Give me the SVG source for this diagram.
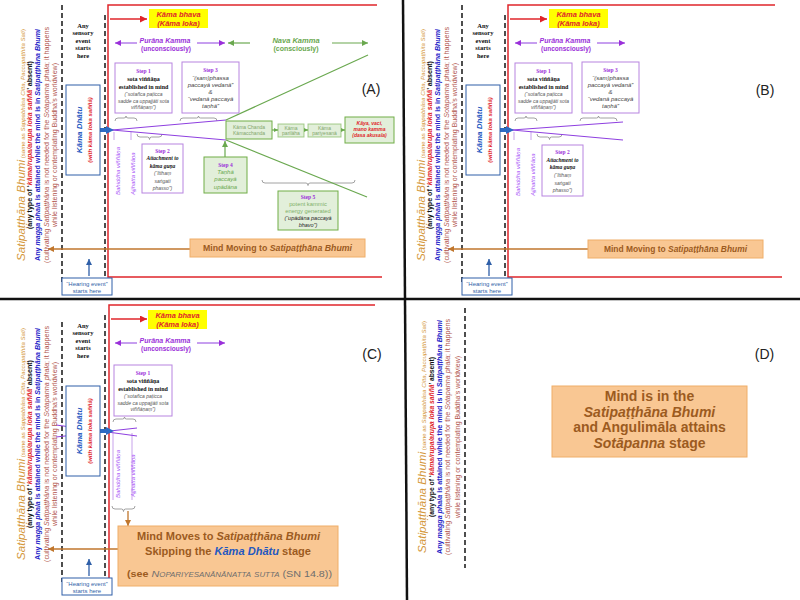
<svg xmlns="http://www.w3.org/2000/svg" width="800" height="600" viewBox="0 0 800 600">
<defs>
<style>
text{font-family:"Liberation Sans",Arial,sans-serif}
.sf{font-family:"Liberation Serif","Times New Roman",serif}
.c{text-anchor:middle}
.i{font-style:italic}
.b{font-weight:bold}
.dash{stroke:#222;stroke-width:1.6;stroke-dasharray:5,3;fill:none}
.red{stroke:#e0262b;stroke-width:1.5;fill:none}
.pl{stroke:#8e3fe0;stroke-width:1;fill:none}
.pl2{stroke:#b98ae6;stroke-width:0.8;fill:none}
.gl{stroke:#6aa84f;stroke-width:1.2;fill:none}
.brace{stroke:#8a8a8a;stroke-width:0.8;fill:none}
.pbox{fill:#fff;stroke:#b784e0;stroke-width:1}
.gbox{fill:#e2efda;stroke:#70ad47;stroke-width:1}
.obox{fill:#f9c793;stroke:#efae68;stroke-width:1}
.bbox{fill:#fff;stroke:#2f5fa8;stroke-width:1}
.otxt{fill:#9c5b1f;font-weight:bold;text-anchor:middle}
.stp{font-family:"Liberation Serif","Times New Roman",serif;font-weight:bold;fill:#9b30d9;font-size:5.5px;text-anchor:middle}
.blk{font-family:"Liberation Serif","Times New Roman",serif;font-weight:bold;fill:#111;font-size:6px;text-anchor:middle}
.blk2{font-family:"Liberation Serif","Times New Roman",serif;font-weight:bold;font-style:italic;fill:#111;font-size:5.5px;text-anchor:middle}
.gry{fill:#555;font-style:italic;font-size:5px;text-anchor:middle}
.s3{fill:#444;font-style:italic;font-size:6px;text-anchor:middle}
.pur{fill:#9b30d9;font-weight:bold;text-anchor:middle}
.grn{fill:#6aa84f;font-weight:bold;text-anchor:middle}
.kb{fill:#e0262b;font-weight:bold;font-style:italic;font-size:7.5px;text-anchor:middle}
.kk{fill:#e0262b;font-weight:bold;font-style:italic;font-size:5px;text-anchor:middle}
.vin{fill:#a855f7;font-style:italic;font-size:6px}
.hear{fill:#2f5fa8;font-size:6px;text-anchor:middle}
.lbl{fill:#222;font-size:14px;text-anchor:middle}
.gsm{fill:#7fa66a;font-size:5px;text-anchor:middle}
.or{fill:#d4973a}
.bl{fill:#2424c8;font-weight:bold}
.br{fill:#b0524a}
</style>
<marker id="m-red" viewBox="0 0 10 10" refX="10" refY="5" markerWidth="7" markerHeight="7" markerUnits="userSpaceOnUse" orient="auto"><path d="M0,0 L10,5 L0,10z" fill="#e0262b"/></marker>
<marker id="m-pur" viewBox="0 0 10 10" refX="10" refY="5" markerWidth="7" markerHeight="6" markerUnits="userSpaceOnUse" orient="auto"><path d="M0,0 L10,5 L0,10z" fill="#9b30d9"/></marker>
<marker id="m-grn" viewBox="0 0 10 10" refX="10" refY="5" markerWidth="7" markerHeight="6" markerUnits="userSpaceOnUse" orient="auto"><path d="M0,0 L10,5 L0,10z" fill="#6aa84f"/></marker>
<marker id="m-grs" viewBox="0 0 10 10" refX="10" refY="5" markerWidth="4" markerHeight="4" markerUnits="userSpaceOnUse" orient="auto"><path d="M0,0 L10,5 L0,10z" fill="#6aa84f"/></marker>
<marker id="m-org" viewBox="0 0 10 10" refX="10" refY="5" markerWidth="6" markerHeight="6" markerUnits="userSpaceOnUse" orient="auto"><path d="M0,0 L10,5 L0,10z" fill="#c0762c"/></marker>
<marker id="m-blu" viewBox="0 0 10 10" refX="10" refY="5" markerWidth="6" markerHeight="6" markerUnits="userSpaceOnUse" orient="auto"><path d="M0,0 L10,5 L0,10z" fill="#2f5fa8"/></marker>
</defs>
<rect width="800" height="600" fill="#fff"/>

<g id="dividers">
<line x1="0" y1="299" x2="800" y2="299" stroke="#111" stroke-width="2.5"/>
<line x1="403" y1="0" x2="407" y2="600" stroke="#111" stroke-width="2.5"/>
</g>

<!-- ================= PANEL A ================= -->
<g id="panel-a">
<g id="a-connectors">
<line class="dash" x1="62" y1="5" x2="62" y2="283"/>
<line class="dash" x1="105" y1="15" x2="105" y2="283"/>
<path class="red" d="M377,5 H108 V277 H382"/>
<line class="red" x1="110" y1="19" x2="147" y2="19" marker-end="url(#m-red)"/>
<line class="pl" x1="137" y1="43" x2="115" y2="43" marker-end="url(#m-pur)"/>
<line class="pl" x1="197" y1="43" x2="225" y2="43" marker-end="url(#m-pur)"/>
<line class="gl" x1="250" y1="43" x2="228" y2="43" marker-end="url(#m-grn)"/>
<line class="gl" x1="332" y1="43" x2="368" y2="43" marker-end="url(#m-grn)"/>
<path class="brace" d="M115,121 Q115,118 118,118 H124 Q126,118 126,116 Q126,118 128,118 H134 Q137,118 137,121"/>
<path class="brace" d="M180,121 Q180,118 183,118 H196.5 Q198.5,118 198.5,116 Q198.5,118 200.5,118 H214 Q217,118 217,121"/>
<path class="brace" d="M137,134 Q137,137 140,137 H147.5 Q149.5,137 149.5,139.5 Q149.5,137 151.5,137 H159 Q162,137 162,134"/>
<path class="brace" d="M262,180 Q262,183 265,183 H306 Q308,183 308,185.5 Q308,183 310,183 H352 Q355,183 355,180"/>
<line class="pl2" x1="114" y1="132" x2="114" y2="140"/>
<line class="pl2" x1="131" y1="132" x2="131" y2="140"/>
<line class="pl" x1="112" y1="130" x2="226" y2="120"/>
<line class="pl" x1="112" y1="130" x2="226" y2="140"/>
<line class="gl" x1="226" y1="120" x2="368" y2="55"/>
<line class="gl" x1="226" y1="140" x2="367" y2="197"/>
<line class="gl" x1="225" y1="157" x2="225" y2="141" marker-end="url(#m-grn)"/>
<line class="gl" x1="272" y1="130" x2="278" y2="130" marker-end="url(#m-grs)"/>
<line class="gl" x1="304" y1="130" x2="308" y2="130" marker-end="url(#m-grs)"/>
<line class="gl" x1="341" y1="130" x2="345" y2="130" marker-end="url(#m-grs)"/>
<line x1="89" y1="276" x2="89" y2="259" stroke="#2f5fa8" stroke-width="1.3" marker-end="url(#m-blu)"/>
<line x1="190" y1="249" x2="48" y2="249" stroke="#c0762c" stroke-width="1.5" marker-end="url(#m-org)"/>
<line x1="99" y1="130" x2="107" y2="130" stroke="#2e6cc4" stroke-width="4"/>
<polygon points="106,126 114,130 106,134" fill="#2e6cc4"/>
</g>
<g id="a-bhumi-note">
<text class="c i or" transform="translate(24.7,145) rotate(-90)" font-size="10.5" textLength="232" lengthAdjust="spacingAndGlyphs">Satipaṭṭhāna Bhumi<tspan font-size="5.5" font-style="normal"> (same as <tspan font-style="italic">Sappabhāsa Citta</tspan>, <tspan font-style="italic">Paccupaṭṭhita Sati</tspan>)</tspan></text>
<text class="c b" transform="translate(31.8,145) rotate(-90)" font-size="6.5" fill="#111" textLength="168" lengthAdjust="spacingAndGlyphs">(any type of ‘<tspan fill="#e0262b" font-style="italic">kāma/rupa/arupa loka saññā</tspan>’ absent)</text>
<text class="c bl" transform="translate(40.3,145) rotate(-90)" font-size="6.5" textLength="232" lengthAdjust="spacingAndGlyphs">Any <tspan font-style="italic">magga phala</tspan> is attained while the mind is in <tspan font-style="italic">Satipaṭṭhāna Bhumi</tspan></text>
<text class="c br" transform="translate(48.8,145) rotate(-90)" font-size="6.5" textLength="236" lengthAdjust="spacingAndGlyphs">(cultivating <tspan font-style="italic">Satipaṭṭhāna</tspan> is not needed for the <tspan font-style="italic">Sotapanna phala</tspan>; it happens</text>
<text class="c br" transform="translate(56.8,145) rotate(-90)" font-size="6.5" textLength="164" lengthAdjust="spacingAndGlyphs">while listening or contemplating Buddha’s worldview)</text>
</g>
<g id="a-sensory-event">
<text class="sf b c" font-size="6.5" fill="#111"><tspan x="83" y="27.5">Any</tspan><tspan x="83" y="35">sensory</tspan><tspan x="83" y="42.5">event</tspan><tspan x="83" y="50">starts</tspan><tspan x="83" y="57.5">here</tspan></text>
</g>
<g id="a-kama-bhava">
<rect x="149" y="9" width="59" height="19" fill="#ffff00"/>
<text class="kb" x="178.5" y="17">Kāma bhava</text>
<text class="kb" x="178.5" y="25.5">(Kāma loka)</text>
</g>
<g id="a-purana-kamma">
<text class="pur i" x="165" y="42.5" font-size="7">Purāna Kamma</text>
<text class="pur" x="166" y="50.5" font-size="6.5">(unconsciously)</text>
</g>
<g id="a-nava-kamma">
<text class="grn i" x="296" y="42.5" font-size="7.5">Nava Kamma</text>
<text class="grn" x="296" y="50.5" font-size="7">(consciously)</text>
</g>
<g id="a-step1">
<rect class="pbox" x="115" y="63" width="57" height="50"/>
<text class="stp" x="143.5" y="73">Step 1</text>
<text class="blk" x="143.5" y="81">sota viññāṇa</text>
<text class="blk" x="143.5" y="88.5">established in mind</text>
<text class="gry" x="143.5" y="96">(“sotañca paṭicca</text>
<text class="gry" x="143.5" y="102.5">sadde ca uppajjāti sota</text>
<text class="gry" x="143.5" y="109">viññāṇaṃ”)</text>
</g>
<g id="a-step3">
<rect class="pbox" x="182" y="62" width="57" height="51"/>
<text class="stp" x="210.5" y="72">Step 3</text>
<text class="s3" x="210.5" y="79.5">“(sam)phassa</text>
<text class="s3" x="210.5" y="86.5">paccayā vedanā”</text>
<text class="s3" x="210.5" y="94">&amp;</text>
<text class="s3" x="210.5" y="101">“vedanā paccayā</text>
<text class="s3" x="210.5" y="108">taṇhā”</text>
</g>
<g id="a-step2">
<rect class="pbox" x="142" y="144" width="41" height="49"/>
<text class="stp" x="162.5" y="152.5">Step 2</text>
<text class="blk2" x="162.5" y="160">Attachment to</text>
<text class="blk2" x="162.5" y="167.5">kāma guṇa</text>
<text class="gry" x="162.5" y="175">(“Itthaṃ</text>
<text class="gry" x="162.5" y="182.5">saṅgati</text>
<text class="gry" x="162.5" y="189.5">phasso”)</text>
</g>
<g id="a-vinnana">
<text class="vin" transform="translate(120,195) rotate(-90)">Bahiddha viññāṇa</text>
<text class="vin" transform="translate(134.5,195) rotate(-90)">Ajjhatta viññāṇa</text>
</g>
<g id="a-kama-dhatu">
<rect class="bbox" x="66" y="85" width="34" height="90"/>
<text class="c i b" transform="translate(81.5,130) rotate(-90)" font-size="8" fill="#2458c0">Kāma Dhātu</text>
<text class="c i b" transform="translate(92,130) rotate(-90)" font-size="6" fill="#e0262b">(with kāma loka saññā)</text>
</g>
<g id="a-hearing">
<rect class="bbox" x="62" y="278" width="50" height="17"/>
<text class="hear" x="87" y="286">“Hearing event”</text>
<text class="hear" x="87" y="293">starts here</text>
</g>
<g id="a-mind-moving">
<rect class="obox" x="190" y="239" width="175" height="18"/>
<text class="otxt" x="277.5" y="250.8" font-size="8.5" textLength="149" lengthAdjust="spacingAndGlyphs">Mind Moving to <tspan font-style="italic">Satipaṭṭhāna Bhumi</tspan></text>
</g>
<g id="a-kama-chanda">
<rect class="gbox" x="226" y="121" width="46" height="18"/>
<text class="gsm" x="249" y="128.5">Kāma Chanda</text>
<text class="gsm" x="249" y="135">Kāmacchanda</text>
</g>
<g id="a-parilaha">
<rect class="gbox" x="278" y="124" width="26" height="13" stroke-opacity="0.6"/>
<text class="gsm" x="291" y="129.5">Kāma</text>
<text class="gsm" x="291" y="135">parilāha</text>
</g>
<g id="a-pariyesana">
<rect class="gbox" x="308" y="124" width="33" height="13" stroke-opacity="0.6"/>
<text class="gsm" x="324.5" y="129.5">Kāma</text>
<text class="gsm" x="324.5" y="135">pariyesanā</text>
</g>
<g id="a-kamma">
<rect class="gbox" x="345" y="117" width="49" height="26" stroke-width="1.6"/>
<text class="kk" x="369.5" y="124.8">Kāya, vaci,</text>
<text class="kk" x="369.5" y="131">mano kamma</text>
<text class="kk" x="369.5" y="137.4">(dasa akusala)</text>
</g>
<g id="a-step4">
<rect class="gbox" x="204" y="157" width="43" height="36"/>
<text class="stp" x="225.5" y="166.5">Step 4</text>
<text class="c i" x="225.5" y="174" font-size="6" fill="#6aa84f">Taṇhā</text>
<text class="c i" x="225.5" y="181.3" font-size="6" fill="#6aa84f">paccayā</text>
<text class="c i" x="225.5" y="188.5" font-size="6" fill="#6aa84f">upādāna</text>
</g>
<g id="a-step5">
<rect class="gbox" x="278" y="191" width="60" height="39"/>
<text class="stp" x="308" y="198.5">Step 5</text>
<text class="c" x="308" y="205.5" font-size="5.8" fill="#7fb069">potent kammic</text>
<text class="c" x="308" y="212.5" font-size="5.8" fill="#7fb069">energy generated</text>
<text class="c i" x="308" y="220" font-size="5.5" fill="#222">(“upādāna paccayā</text>
<text class="c i" x="308" y="227" font-size="5.5" fill="#222">bhavo”)</text>
</g>
<text id="a-label" class="lbl" x="371" y="93.5">(A)</text>
</g>

<!-- ================= PANEL B ================= -->
<g id="panel-b" transform="translate(400,0)">
<g id="b-connectors">
<line class="dash" x1="62" y1="5" x2="62" y2="283"/>
<line class="dash" x1="105" y1="15" x2="105" y2="283"/>
<path class="red" d="M375,5 H108 V277 H382"/>
<line class="red" x1="110" y1="19" x2="147" y2="19" marker-end="url(#m-red)"/>
<line class="pl" x1="137" y1="43" x2="115" y2="43" marker-end="url(#m-pur)"/>
<line class="pl" x1="197" y1="43" x2="225" y2="43" marker-end="url(#m-pur)"/>
<path class="brace" d="M115,121 Q115,118 118,118 H124 Q126,118 126,116 Q126,118 128,118 H134 Q137,118 137,121"/>
<path class="brace" d="M180,121 Q180,118 183,118 H196.5 Q198.5,118 198.5,116 Q198.5,118 200.5,118 H214 Q217,118 217,121"/>
<path class="brace" d="M137,134 Q137,137 140,137 H147.5 Q149.5,137 149.5,139.5 Q149.5,137 151.5,137 H159 Q162,137 162,134"/>
<line class="pl2" x1="114" y1="132" x2="114" y2="140"/>
<line class="pl2" x1="131" y1="132" x2="131" y2="140"/>
<line class="pl" x1="112" y1="130" x2="223" y2="122"/>
<line class="pl" x1="112" y1="130" x2="223" y2="140"/>
<line x1="89" y1="276" x2="89" y2="259" stroke="#2f5fa8" stroke-width="1.3" marker-end="url(#m-blu)"/>
<line x1="188" y1="249" x2="48" y2="249" stroke="#c0762c" stroke-width="1.5" marker-end="url(#m-org)"/>
<line x1="99" y1="130" x2="107" y2="130" stroke="#2e6cc4" stroke-width="4"/>
<polygon points="106,126 114,130 106,134" fill="#2e6cc4"/>
</g>
<g id="b-bhumi-note">
<text class="c i or" transform="translate(24.7,145) rotate(-90)" font-size="10.5" textLength="232" lengthAdjust="spacingAndGlyphs">Satipaṭṭhāna Bhumi<tspan font-size="5.5" font-style="normal"> (same as <tspan font-style="italic">Sappabhāsa Citta</tspan>, <tspan font-style="italic">Paccupaṭṭhita Sati</tspan>)</tspan></text>
<text class="c b" transform="translate(31.8,145) rotate(-90)" font-size="6.5" fill="#111" textLength="168" lengthAdjust="spacingAndGlyphs">(any type of ‘<tspan fill="#e0262b" font-style="italic">kāma/rupa/arupa loka saññā</tspan>’ absent)</text>
<text class="c bl" transform="translate(40.3,145) rotate(-90)" font-size="6.5" textLength="232" lengthAdjust="spacingAndGlyphs">Any <tspan font-style="italic">magga phala</tspan> is attained while the mind is in <tspan font-style="italic">Satipaṭṭhāna Bhumi</tspan></text>
<text class="c br" transform="translate(48.8,145) rotate(-90)" font-size="6.5" textLength="236" lengthAdjust="spacingAndGlyphs">(cultivating <tspan font-style="italic">Satipaṭṭhāna</tspan> is not needed for the <tspan font-style="italic">Sotapanna phala</tspan>; it happens</text>
<text class="c br" transform="translate(56.8,145) rotate(-90)" font-size="6.5" textLength="164" lengthAdjust="spacingAndGlyphs">while listening or contemplating Buddha’s worldview)</text>
</g>
<g id="b-sensory-event">
<text class="sf b c" font-size="6.5" fill="#111"><tspan x="83" y="27.5">Any</tspan><tspan x="83" y="35">sensory</tspan><tspan x="83" y="42.5">event</tspan><tspan x="83" y="50">starts</tspan><tspan x="83" y="57.5">here</tspan></text>
</g>
<g id="b-kama-bhava">
<rect x="149" y="9" width="59" height="19" fill="#ffff00"/>
<text class="kb" x="178.5" y="17">Kāma bhava</text>
<text class="kb" x="178.5" y="25.5">(Kāma loka)</text>
</g>
<g id="b-purana-kamma">
<text class="pur i" x="165" y="42.5" font-size="7">Purāna Kamma</text>
<text class="pur" x="166" y="50.5" font-size="6.5">(unconsciously)</text>
</g>
<g id="b-step1">
<rect class="pbox" x="115" y="63" width="57" height="50"/>
<text class="stp" x="143.5" y="73">Step 1</text>
<text class="blk" x="143.5" y="81">sota viññāṇa</text>
<text class="blk" x="143.5" y="88.5">established in mind</text>
<text class="gry" x="143.5" y="96">(“sotañca paṭicca</text>
<text class="gry" x="143.5" y="102.5">sadde ca uppajjāti sota</text>
<text class="gry" x="143.5" y="109">viññāṇaṃ”)</text>
</g>
<g id="b-step3">
<rect class="pbox" x="182" y="62" width="57" height="51"/>
<text class="stp" x="210.5" y="72">Step 3</text>
<text class="s3" x="210.5" y="79.5">“(sam)phassa</text>
<text class="s3" x="210.5" y="86.5">paccayā vedanā”</text>
<text class="s3" x="210.5" y="94">&amp;</text>
<text class="s3" x="210.5" y="101">“vedanā paccayā</text>
<text class="s3" x="210.5" y="108">taṇhā”</text>
</g>
<g id="b-step2">
<rect class="pbox" x="142" y="145" width="41" height="51"/>
<text class="stp" x="162.5" y="154">Step 2</text>
<text class="blk2" x="162.5" y="161.5">Attachment to</text>
<text class="blk2" x="162.5" y="169">kāma guṇa</text>
<text class="gry" x="162.5" y="177">(“Itthaṃ</text>
<text class="gry" x="162.5" y="184.5">saṅgati</text>
<text class="gry" x="162.5" y="192">phasso”)</text>
</g>
<g id="b-vinnana">
<text class="vin" transform="translate(120,196) rotate(-90)">Bahiddha viññāṇa</text>
<text class="vin" transform="translate(134.5,196) rotate(-90)">Ajjhatta viññāṇa</text>
</g>
<g id="b-kama-dhatu">
<rect class="bbox" x="66" y="85" width="34" height="90"/>
<text class="c i b" transform="translate(81.5,130) rotate(-90)" font-size="8" fill="#2458c0">Kāma Dhātu</text>
<text class="c i b" transform="translate(92,130) rotate(-90)" font-size="6" fill="#e0262b">(with kāma loka saññā)</text>
</g>
<g id="b-hearing">
<rect class="bbox" x="62" y="278" width="50" height="17"/>
<text class="hear" x="87" y="286">“Hearing event”</text>
<text class="hear" x="87" y="293">starts here</text>
</g>
<g id="b-mind-moving">
<rect class="obox" x="188" y="240" width="175" height="18"/>
<text class="otxt" x="275.5" y="251.8" font-size="8.5" textLength="143" lengthAdjust="spacingAndGlyphs">Mind Moving to <tspan font-style="italic">Satipaṭṭhāna Bhumi</tspan></text>
</g>
<text id="b-label" class="lbl" x="365" y="95">(B)</text>
</g>

<!-- ================= PANEL C ================= -->
<g id="panel-c" transform="translate(0,300)">
<g id="c-connectors">
<line class="dash" x1="62" y1="22" x2="62" y2="282"/>
<line class="dash" x1="105" y1="15" x2="105" y2="282"/>
<path class="red" d="M375,5 H109 V278"/>
<line class="red" x1="111" y1="19" x2="147" y2="19" marker-end="url(#m-red)"/>
<line class="pl" x1="137" y1="43" x2="115" y2="43" marker-end="url(#m-pur)"/>
<line class="pl" x1="197" y1="43" x2="225" y2="43" marker-end="url(#m-pur)"/>
<path class="brace" d="M113,122 Q113,119 116,119 H122.5 Q124.5,119 124.5,117 Q124.5,119 126.5,119 H133 Q136,119 136,122"/>
<line class="pl2" x1="113" y1="133" x2="113" y2="200"/>
<line class="pl2" x1="132" y1="133" x2="132" y2="200"/>
<line class="pl" x1="56" y1="125" x2="137" y2="136"/>
<line class="pl" x1="56" y1="137" x2="137" y2="128"/>
<path class="brace" d="M112,206 Q112,209 115,209 H121.5 Q123.5,209 123.5,211.5 Q123.5,209 125.5,209 H132 Q135,209 135,206"/>
<line x1="128" y1="211" x2="128" y2="226" stroke="#c0762c" stroke-width="1.3" marker-end="url(#m-org)"/>
<line x1="89" y1="276" x2="89" y2="259" stroke="#2f5fa8" stroke-width="1.3" marker-end="url(#m-blu)"/>
<line x1="118" y1="249" x2="48" y2="249" stroke="#c0762c" stroke-width="1.5" marker-end="url(#m-org)"/>
<line x1="99" y1="131" x2="107" y2="131" stroke="#2e6cc4" stroke-width="4"/>
<polygon points="106,127 114,131 106,135" fill="#2e6cc4"/>
</g>
<g id="c-bhumi-note">
<text class="c i or" transform="translate(24.7,144) rotate(-90)" font-size="10.5" textLength="232" lengthAdjust="spacingAndGlyphs">Satipaṭṭhāna Bhumi<tspan font-size="5.5" font-style="normal"> (same as <tspan font-style="italic">Sappabhāsa Citta</tspan>, <tspan font-style="italic">Paccupaṭṭhita Sati</tspan>)</tspan></text>
<text class="c b" transform="translate(31.8,144) rotate(-90)" font-size="6.5" fill="#111" textLength="168" lengthAdjust="spacingAndGlyphs">(any type of ‘<tspan fill="#e0262b" font-style="italic">kāma/rupa/arupa loka saññā</tspan>’ absent)</text>
<text class="c bl" transform="translate(40.3,144) rotate(-90)" font-size="6.5" textLength="232" lengthAdjust="spacingAndGlyphs">Any <tspan font-style="italic">magga phala</tspan> is attained while the mind is in <tspan font-style="italic">Satipaṭṭhāna Bhumi</tspan></text>
<text class="c br" transform="translate(48.8,144) rotate(-90)" font-size="6.5" textLength="236" lengthAdjust="spacingAndGlyphs">(cultivating <tspan font-style="italic">Satipaṭṭhāna</tspan> is not needed for the <tspan font-style="italic">Sotapanna phala</tspan>; it happens</text>
<text class="c br" transform="translate(56.8,144) rotate(-90)" font-size="6.5" textLength="164" lengthAdjust="spacingAndGlyphs">while listening or contemplating Buddha’s worldview)</text>
</g>
<g id="c-sensory-event">
<text class="sf b c" font-size="6.5" fill="#111"><tspan x="83" y="27.5">Any</tspan><tspan x="83" y="35">sensory</tspan><tspan x="83" y="42.5">event</tspan><tspan x="83" y="50">starts</tspan><tspan x="83" y="57.5">here</tspan></text>
</g>
<g id="c-kama-bhava">
<rect x="148" y="10" width="59" height="19" fill="#ffff00"/>
<text class="kb" x="177.5" y="18">Kāma bhava</text>
<text class="kb" x="177.5" y="26.5">(Kāma loka)</text>
</g>
<g id="c-purana-kamma">
<text class="pur i" x="165" y="42.5" font-size="7">Purāna Kamma</text>
<text class="pur" x="166" y="50.5" font-size="6.5">(unconsciously)</text>
</g>
<g id="c-step1">
<rect class="pbox" x="114" y="65" width="58" height="51"/>
<text class="stp" x="143" y="75">Step 1</text>
<text class="blk" x="143" y="83">sota viññāṇa</text>
<text class="blk" x="143" y="90.5">established in mind</text>
<text class="gry" x="143" y="98">(“sotañca paṭicca</text>
<text class="gry" x="143" y="104.5">sadde ca uppajjāti sota</text>
<text class="gry" x="143" y="111">viññāṇaṃ”)</text>
</g>
<g id="c-vinnana">
<text class="vin" transform="translate(119.5,198) rotate(-90)">Bahiddha viññāṇa</text>
<text class="vin" transform="translate(134.5,197) rotate(-90)">Ajjhatta viññāṇa</text>
</g>
<g id="c-kama-dhatu">
<rect class="bbox" x="66" y="86" width="34" height="90"/>
<text class="c i b" transform="translate(81.5,131) rotate(-90)" font-size="8" fill="#2458c0">Kāma Dhātu</text>
<text class="c i b" transform="translate(92,131) rotate(-90)" font-size="6" fill="#e0262b">(with kāma loka saññā)</text>
</g>
<g id="c-hearing">
<rect class="bbox" x="62" y="278" width="50" height="17"/>
<text class="hear" x="87" y="286">“Hearing event”</text>
<text class="hear" x="87" y="293">starts here</text>
</g>
<g id="c-mind-moves">
<rect class="obox" x="118" y="226" width="220" height="60"/>
<text class="otxt" x="228.5" y="239.5" font-size="10" textLength="183" lengthAdjust="spacingAndGlyphs">Mind Moves to <tspan font-style="italic">Satipaṭṭhāna Bhumi</tspan></text>
<text class="otxt" x="228" y="255" font-size="10" textLength="166" lengthAdjust="spacingAndGlyphs">Skipping the <tspan font-style="italic" fill="#2458c0">Kāma Dhātu</tspan> stage</text>
<text class="c" x="229.5" y="277" font-size="9.5" textLength="205" lengthAdjust="spacingAndGlyphs"><tspan fill="#9c5b1f" font-weight="bold">(see </tspan><tspan fill="#6e6e6e" font-style="italic" style="font-variant:small-caps">Nopariyesanānānatta sutta</tspan><tspan fill="#6e6e6e"> (SN 14.8))</tspan></text>
</g>
<text id="c-label" class="lbl" x="372" y="58.5">(C)</text>
</g>

<!-- ================= PANEL D ================= -->
<g id="panel-d" transform="translate(400,300)">
<g id="d-connectors">
<line class="dash" x1="65" y1="8" x2="65" y2="268"/>
</g>
<g id="d-bhumi-note">
<text class="c i or" transform="translate(25.7,137) rotate(-90)" font-size="10.5" textLength="232" lengthAdjust="spacingAndGlyphs">Satipaṭṭhāna Bhumi<tspan font-size="5.5" font-style="normal"> (same as <tspan font-style="italic">Sappabhāsa Citta</tspan>, <tspan font-style="italic">Paccupaṭṭhita Sati</tspan>)</tspan></text>
<text class="c b" transform="translate(34.3,137) rotate(-90)" font-size="6.5" fill="#111" textLength="160" lengthAdjust="spacingAndGlyphs">(any type of ‘<tspan fill="#e0262b" font-style="italic">kāma/rupa/arupa loka saññā</tspan>’ absent)</text>
<text class="c bl" transform="translate(41.5,137) rotate(-90)" font-size="6.5" textLength="234" lengthAdjust="spacingAndGlyphs">Any <tspan font-style="italic">magga phala</tspan> is attained while the mind is in <tspan font-style="italic">Satipaṭṭhāna Bhumi</tspan></text>
<text class="c br" transform="translate(50.3,137) rotate(-90)" font-size="6.5" textLength="236" lengthAdjust="spacingAndGlyphs">(cultivating <tspan font-style="italic">Satipaṭṭhāna</tspan> is not needed for the <tspan font-style="italic">Sotapanna phala</tspan>; it happens</text>
<text class="c br" transform="translate(60,137) rotate(-90)" font-size="6.5" textLength="162" lengthAdjust="spacingAndGlyphs">while listening or contemplating Buddha’s worldview)</text>
</g>
<g id="d-mind-in">
<rect class="obox" x="152" y="86" width="195" height="71"/>
<text class="otxt" x="249.5" y="101" font-size="14">Mind is in the</text>
<text class="otxt" x="249.5" y="116.5" font-size="14" font-style="italic">Satipaṭṭhāna Bhumi</text>
<text class="otxt" x="249.5" y="132" font-size="14">and Angulimāla attains</text>
<text class="otxt" x="249.5" y="147.5" font-size="14"><tspan font-style="italic">Sotāpanna</tspan> stage</text>
</g>
<text id="d-label" class="lbl" x="364.5" y="58.5">(D)</text>
</g>
</svg>
